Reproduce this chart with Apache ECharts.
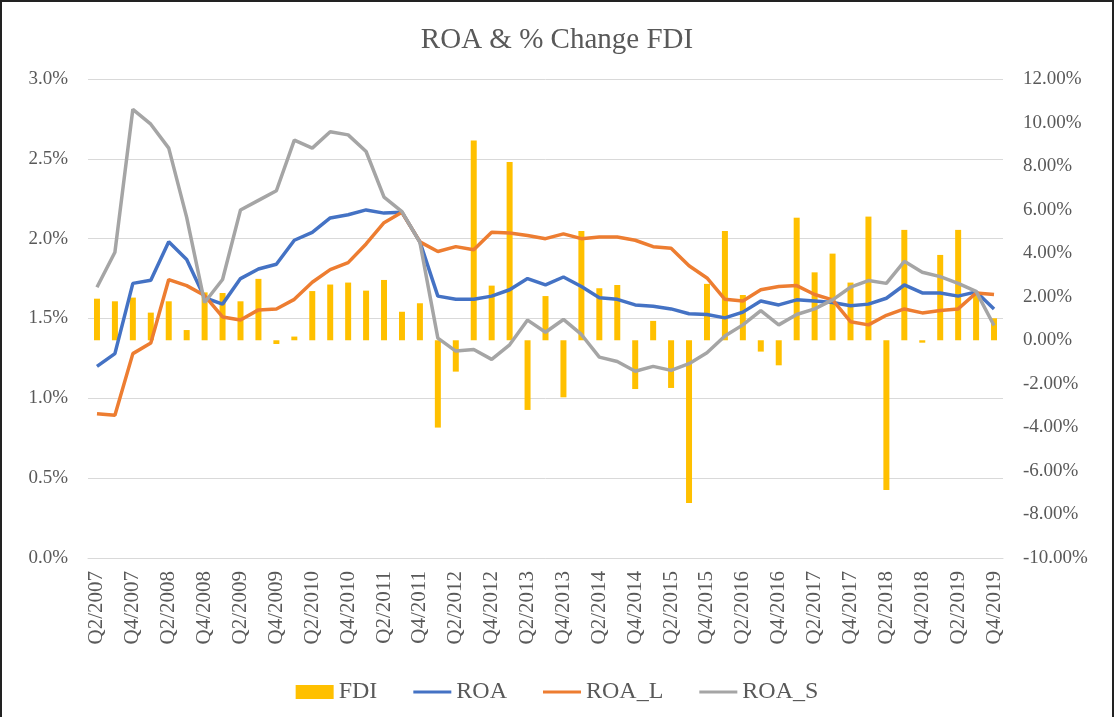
<!DOCTYPE html>
<html>
<head>
<meta charset="utf-8">
<script src="https://cdn.jsdelivr.net/npm/echarts@6/dist/echarts.min.js"></script>
<style>
  body { margin: 0; background: #fff; }
  #main { position: absolute; left: 0; top: 0; width: 1114px; height: 717px; }
  #frame { position: absolute; left: 0; top: 0; width: 1114px; height: 717px; box-sizing: border-box;
           border: 2px solid #222; border-bottom: none; pointer-events: none; }
</style>
</head>
<body>
<div id="main"></div>
<div id="frame"></div>
<script>
// quarters
var quarters = [
  'Q2/2007','Q3/2007','Q4/2007',
  'Q1/2008','Q2/2008','Q3/2008','Q4/2008',
  'Q1/2009','Q2/2009','Q3/2009','Q4/2009',
  'Q1/2010','Q2/2010','Q3/2010','Q4/2010',
  'Q1/2011','Q2/2011','Q3/2011','Q4/2011',
  'Q1/2012','Q2/2012','Q3/2012','Q4/2012',
  'Q1/2013','Q2/2013','Q3/2013','Q4/2013',
  'Q1/2014','Q2/2014','Q3/2014','Q4/2014',
  'Q1/2015','Q2/2015','Q3/2015','Q4/2015',
  'Q1/2016','Q2/2016','Q3/2016','Q4/2016',
  'Q1/2017','Q2/2017','Q3/2017','Q4/2017',
  'Q1/2018','Q2/2018','Q3/2018','Q4/2018',
  'Q1/2019','Q2/2019','Q3/2019','Q4/2019'
];

// % change FDI (right axis, in %)
var fdi = [
  1.91, 1.79, 1.96, 1.27, 1.79, 0.47, 2.2, 2.17, 1.79, 2.82,
  -0.17, 0.17, 2.26, 2.56, 2.65, 2.28, 2.77, 1.31, 1.70, -4.01,
  -1.44, 9.17, 2.51, 8.19, -3.20, 2.03, -2.62, 5.02, 2.39, 2.54,
  -2.24, 0.89, -2.19, -7.47, 2.59, 5.02, 2.08, -0.52, -1.15, 5.63,
  3.12, 3.98, 2.65, 5.68, -6.88, 5.07, -0.11, 3.92, 5.07, 2.2,
  1.01
];

// ROA series (left axis, in %)
var roa = [
  1.20, 1.28, 1.72, 1.74, 1.98, 1.87, 1.63, 1.59, 1.75, 1.81,
  1.84, 1.99, 2.04, 2.13, 2.15, 2.18, 2.16, 2.165, 1.98, 1.64,
  1.62, 1.62, 1.64, 1.68, 1.75, 1.71, 1.76, 1.70, 1.63, 1.62,
  1.585, 1.577, 1.56, 1.53, 1.525, 1.504, 1.54, 1.61, 1.585, 1.617,
  1.61, 1.60, 1.58, 1.59, 1.627, 1.71, 1.66, 1.66, 1.64, 1.667,
  1.56
];

var roaL = [
  0.904, 0.894, 1.28, 1.346, 1.744, 1.706, 1.644, 1.51, 1.49, 1.554,
  1.56, 1.62, 1.727, 1.806, 1.85, 1.967, 2.10, 2.165, 1.98, 1.92,
  1.95, 1.93, 2.04, 2.035, 2.02, 2.00, 2.03, 2.00, 2.01, 2.01,
  1.99, 1.95, 1.94, 1.83, 1.754, 1.62, 1.61, 1.68, 1.70, 1.706,
  1.65, 1.617, 1.48, 1.46, 1.52, 1.56, 1.535, 1.55, 1.56, 1.66,
  1.65
];

var roaS = [
  1.696, 1.915, 2.81, 2.717, 2.567, 2.133, 1.60, 1.744, 2.18, 2.24,
  2.30, 2.617, 2.567, 2.67, 2.65, 2.546, 2.26, 2.17, 1.977, 1.377,
  1.296, 1.306, 1.244, 1.335, 1.49, 1.414, 1.494, 1.40, 1.258, 1.231,
  1.17, 1.20, 1.175, 1.217, 1.285, 1.39, 1.46, 1.55, 1.46, 1.525,
  1.56, 1.617, 1.696, 1.7375, 1.72, 1.858, 1.79, 1.7625, 1.72, 1.67,
  1.456
];

var serif = 'Liberation Serif';
var labelColor = '#595959';

var chart = echarts.init(document.getElementById('main'));
chart.setOption({
  animation: false,
  textStyle: { fontFamily: serif },
  title: {
    text: 'ROA & % Change FDI',
    left: 'center',
    top: 21,
    textStyle: { fontFamily: serif, fontSize: 29, fontWeight: 'normal', color: labelColor }
  },
  legend: {
    bottom: 8,
    left: 'center',
    itemWidth: 38,
    itemHeight: 14,
    itemGap: 36,
    textStyle: { fontFamily: serif, fontSize: 24, color: labelColor },
    data: [
      { name: 'FDI', icon: 'rect' },
      { name: 'ROA', icon: 'path://M0,0h38v3h-38z' },
      { name: 'ROA_L', icon: 'path://M0,0h38v3h-38z' },
      { name: 'ROA_S', icon: 'path://M0,0h38v3h-38z' }
    ]
  },
  grid: { left: 88, right: 111, top: 79, bottom: 159 },
  xAxis: {
    type: 'category',
    data: quarters,
    axisLine: { lineStyle: { color: '#d9d9d9', width: 1 } },
    axisTick: { show: false },
    axisLabel: {
      rotate: 90,
      interval: 1,
      margin: 13,
      fontFamily: serif,
      fontSize: 21,
      color: labelColor
    }
  },
  yAxis: [
    {
      type: 'value',
      min: 0,
      max: 3,
      interval: 0.5,
      axisLine: { show: false },
      axisTick: { show: false },
      splitLine: { lineStyle: { color: '#d9d9d9', width: 1 } },
      axisLabel: {
        margin: 20,
        fontFamily: serif,
        fontSize: 19,
        color: labelColor,
        formatter: function (v) { return v.toFixed(1) + '%'; }
      }
    },
    {
      type: 'value',
      min: -10,
      max: 12,
      interval: 2,
      axisLine: { show: false },
      axisTick: { show: false },
      splitLine: { show: false },
      axisLabel: {
        margin: 20,
        fontFamily: serif,
        fontSize: 19,
        color: labelColor,
        formatter: function (v) { return v.toFixed(2) + '%'; }
      }
    }
  ],
  series: [
    {
      name: 'FDI',
      type: 'bar',
      yAxisIndex: 1,
      barWidth: 6,
      itemStyle: { color: '#FFC000' },
      data: fdi
    },
    {
      name: 'ROA',
      type: 'line',
      symbol: 'none',
      lineStyle: { color: '#4472C4', width: 3.5 },
      itemStyle: { color: '#4472C4' },
      data: roa
    },
    {
      name: 'ROA_L',
      type: 'line',
      symbol: 'none',
      lineStyle: { color: '#ED7D31', width: 3.5 },
      itemStyle: { color: '#ED7D31' },
      data: roaL
    },
    {
      name: 'ROA_S',
      type: 'line',
      symbol: 'none',
      lineStyle: { color: '#A5A5A5', width: 3.5 },
      itemStyle: { color: '#A5A5A5' },
      data: roaS
    }
  ]
});
</script>
</body>
</html>
